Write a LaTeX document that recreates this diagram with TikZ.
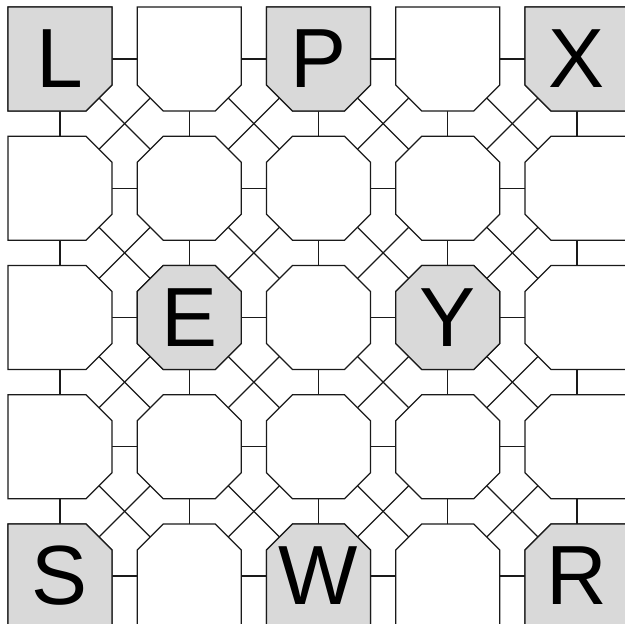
\documentclass[tikz,border=0pt]{standalone}
\usepackage{fontspec}
\setmainfont{Liberation Sans}
\definecolor{linecol}{HTML}{1A1A1A}
\definecolor{cellgray}{HTML}{D9D9D9}
\newcommand\mkcorners[2]{%
 \ifnum#1>0 \ifnum#2>0 \def\TLp{(-52,-26) -- (-26,-52)}\else\def\TLp{(-52,-52)}\fi\else\def\TLp{(-52,-52)}\fi
 \ifnum#1>0 \ifnum#2<4 \def\TRp{(26,-52) -- (52,-26)}\else\def\TRp{(52,-52)}\fi\else\def\TRp{(52,-52)}\fi
 \ifnum#1<4 \ifnum#2<4 \def\BRp{(52,26) -- (26,52)}\else\def\BRp{(52,52)}\fi\else\def\BRp{(52,52)}\fi
 \ifnum#1<4 \ifnum#2>0 \def\BLp{(-26,52) -- (-52,26)}\else\def\BLp{(-52,52)}\fi\else\def\BLp{(-52,52)}\fi
}
\begin{document}
\begin{tikzpicture}[x=1pt,y=-1pt,
  cellbox/.style={draw=linecol, line width=1.1pt, fill=white},
  graybox/.style={draw=linecol, line width=1.1pt, fill=cellgray},
  conn/.style={draw=linecol, line width=1.1pt},
  letter/.style={inner sep=0pt, font=\fontsize{84}{84}\selectfont}]
\useasboundingbox (0,0) rectangle (625,624);
\clip (0,0) rectangle (625,624);
\fill[white] (0,0) rectangle (625,624);
\foreach \r in {0,...,4}{
  \foreach \c in {0,...,4}{
    \pgfmathsetmacro\cx{60+129.25*\c}
    \pgfmathsetmacro\cy{59+129.25*\r}
    \coordinate (c\r-\c) at (\cx,\cy);
  }}
% orthogonal connectors
\foreach \r in {0,...,4}{
  \foreach \c in {0,...,3}{
    \pgfmathtruncatemacro\n{\c+1}
    \draw[conn] ([xshift=52pt]c\r-\c) -- ([xshift=-52pt]c\r-\n);
    \draw[conn] ([yshift=-52pt]c\c-\r) -- ([yshift=52pt]c\n-\r);
  }}
% diagonal connectors
\foreach \r in {0,...,3}{
  \foreach \c in {0,...,3}{
    \pgfmathtruncatemacro\nr{\r+1}
    \pgfmathtruncatemacro\nc{\c+1}
    \draw[conn] ([shift={(39pt,-39pt)}]c\r-\c) -- ([shift={(-39pt,39pt)}]c\nr-\nc);
    \draw[conn] ([shift={(-39pt,-39pt)}]c\r-\nc) -- ([shift={(39pt,39pt)}]c\nr-\c);
  }}
% cells
\foreach \r in {0,...,4}{
  \foreach \c in {0,...,4}{
    \mkcorners{\r}{\c}
    \draw[cellbox, shift={(c\r-\c)}] \TLp -- \TRp -- \BRp -- \BLp -- cycle;
  }}
% lettered cells
\foreach \r/\c/\t in {0/0/L,0/2/P,0/4/X,2/1/E,2/3/Y,4/0/S,4/2/W,4/4/R}{
    \mkcorners{\r}{\c}
    \draw[graybox, shift={(c\r-\c)}] \TLp -- \TRp -- \BRp -- \BLp -- cycle;
    \node[letter] (n\t) at (c\r-\c) {\t};
  }
\end{tikzpicture}
\end{document}
